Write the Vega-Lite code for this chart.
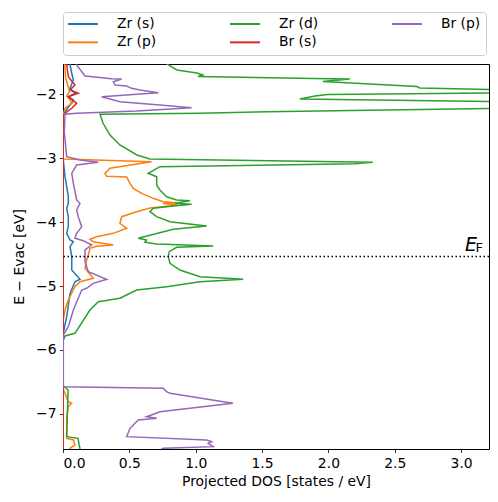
{
"$schema":"https://vega.github.io/schema/vega-lite/v6.json",
"width":426,"height":385,
"autosize":"none",
"padding":{"left":63,"top":64,"right":9,"bottom":53},
"config":{
 "font":"DejaVu Sans",
 "view":{"stroke":"black","strokeWidth":1},
 "axis":{"grid":false,"domainColor":"black","domainWidth":1,"tickColor":"black","tickSize":3.5,"tickWidth":0.8,"labelFontSize":13.9,"labelColor":"black","titleFontSize":13.9,"titleColor":"black","titleFontWeight":"normal","labelPadding":3.5,"zindex":1}
},
"datasets":{
"pdos":[
{"orbital":"Zr (s)","energy":-1.45,"dos":0.05},{"orbital":"Zr (s)","energy":-1.547,"dos":0.053},{"orbital":"Zr (s)","energy":-1.677,"dos":0.066},{"orbital":"Zr (s)","energy":-1.781,"dos":0.078},{"orbital":"Zr (s)","energy":-1.911,"dos":0.053},{"orbital":"Zr (s)","energy":-1.989,"dos":0.09},{"orbital":"Zr (s)","energy":-2.042,"dos":0.04},{"orbital":"Zr (s)","energy":-2.094,"dos":0.078},{"orbital":"Zr (s)","energy":-2.172,"dos":0.053},{"orbital":"Zr (s)","energy":-2.276,"dos":0.015},{"orbital":"Zr (s)","energy":-2.328,"dos":0.002},{"orbital":"Zr (s)","energy":-3.031,"dos":0.002},{"orbital":"Zr (s)","energy":-3.292,"dos":0.015},{"orbital":"Zr (s)","energy":-3.604,"dos":0.04},{"orbital":"Zr (s)","energy":-3.708,"dos":0.04},{"orbital":"Zr (s)","energy":-3.786,"dos":0.028},{"orbital":"Zr (s)","energy":-3.917,"dos":0.04},{"orbital":"Zr (s)","energy":-4.073,"dos":0.04},{"orbital":"Zr (s)","energy":-4.177,"dos":0.028},{"orbital":"Zr (s)","energy":-4.281,"dos":0.053},{"orbital":"Zr (s)","energy":-4.307,"dos":0.078},{"orbital":"Zr (s)","energy":-4.385,"dos":0.053},{"orbital":"Zr (s)","energy":-4.542,"dos":0.066},{"orbital":"Zr (s)","energy":-4.75,"dos":0.066},{"orbital":"Zr (s)","energy":-4.895,"dos":0.128},{"orbital":"Zr (s)","energy":-4.933,"dos":0.09},{"orbital":"Zr (s)","energy":-5.115,"dos":0.053},{"orbital":"Zr (s)","energy":-5.479,"dos":0.028},{"orbital":"Zr (s)","energy":-5.734,"dos":0.002},{"orbital":"Zr (s)","energy":-7.6,"dos":0.002},

{"orbital":"Zr (p)","energy":-1.45,"dos":0.01},{"orbital":"Zr (p)","energy":-1.75,"dos":0.02},{"orbital":"Zr (p)","energy":-1.96,"dos":0.05},{"orbital":"Zr (p)","energy":-2.03,"dos":0.028},{"orbital":"Zr (p)","energy":-2.14,"dos":0.07},{"orbital":"Zr (p)","energy":-2.22,"dos":0.015},{"orbital":"Zr (p)","energy":-2.317,"dos":0.002},{"orbital":"Zr (p)","energy":-3.016,"dos":0.002},{"orbital":"Zr (p)","energy":-3.058,"dos":0.668},{"orbital":"Zr (p)","energy":-3.161,"dos":0.354},{"orbital":"Zr (p)","energy":-3.239,"dos":0.316},{"orbital":"Zr (p)","energy":-3.285,"dos":0.329},{"orbital":"Zr (p)","energy":-3.298,"dos":0.48},{"orbital":"Zr (p)","energy":-3.396,"dos":0.505},{"orbital":"Zr (p)","energy":-3.474,"dos":0.529},{"orbital":"Zr (p)","energy":-3.552,"dos":0.593},{"orbital":"Zr (p)","energy":-3.63,"dos":0.68},{"orbital":"Zr (p)","energy":-3.683,"dos":0.755},{"orbital":"Zr (p)","energy":-3.698,"dos":0.858},{"orbital":"Zr (p)","energy":-3.71,"dos":0.753},{"orbital":"Zr (p)","energy":-3.734,"dos":0.866},{"orbital":"Zr (p)","energy":-3.781,"dos":0.655},{"orbital":"Zr (p)","energy":-3.839,"dos":0.555},{"orbital":"Zr (p)","energy":-3.917,"dos":0.442},{"orbital":"Zr (p)","energy":-4.02,"dos":0.429},{"orbital":"Zr (p)","energy":-4.098,"dos":0.48},{"orbital":"Zr (p)","energy":-4.177,"dos":0.379},{"orbital":"Zr (p)","energy":-4.23,"dos":0.254},{"orbital":"Zr (p)","energy":-4.27,"dos":0.203},{"orbital":"Zr (p)","energy":-4.308,"dos":0.228},{"orbital":"Zr (p)","energy":-4.359,"dos":0.379},{"orbital":"Zr (p)","energy":-4.378,"dos":0.254},{"orbital":"Zr (p)","energy":-4.411,"dos":0.203},{"orbital":"Zr (p)","energy":-4.516,"dos":0.191},{"orbital":"Zr (p)","energy":-4.594,"dos":0.178},{"orbital":"Zr (p)","energy":-4.723,"dos":0.166},{"orbital":"Zr (p)","energy":-4.88,"dos":0.228},{"orbital":"Zr (p)","energy":-4.933,"dos":0.128},{"orbital":"Zr (p)","energy":-5.011,"dos":0.09},{"orbital":"Zr (p)","energy":-5.219,"dos":0.04},{"orbital":"Zr (p)","energy":-5.375,"dos":0.015},{"orbital":"Zr (p)","energy":-5.531,"dos":0.002},{"orbital":"Zr (p)","energy":-6.6,"dos":0.002},{"orbital":"Zr (p)","energy":-6.625,"dos":0.005},{"orbital":"Zr (p)","energy":-6.808,"dos":0.04},{"orbital":"Zr (p)","energy":-6.833,"dos":0.065},{"orbital":"Zr (p)","energy":-6.885,"dos":0.04},{"orbital":"Zr (p)","energy":-7.067,"dos":0.028},{"orbital":"Zr (p)","energy":-7.38,"dos":0.028},{"orbital":"Zr (p)","energy":-7.406,"dos":0.078},{"orbital":"Zr (p)","energy":-7.484,"dos":0.09},{"orbital":"Zr (p)","energy":-7.536,"dos":0.053},{"orbital":"Zr (p)","energy":-7.6,"dos":0.05},

{"orbital":"Zr (d)","energy":-1.4,"dos":0.7},{"orbital":"Zr (d)","energy":-1.531,"dos":0.783},{"orbital":"Zr (d)","energy":-1.625,"dos":0.858},{"orbital":"Zr (d)","energy":-1.672,"dos":1.009},{"orbital":"Zr (d)","energy":-1.703,"dos":1.054},{"orbital":"Zr (d)","energy":-1.727,"dos":1.017},{"orbital":"Zr (d)","energy":-1.758,"dos":1.883},{"orbital":"Zr (d)","energy":-1.766,"dos":2.161},{"orbital":"Zr (d)","energy":-1.805,"dos":1.958},{"orbital":"Zr (d)","energy":-1.883,"dos":2.666},{"orbital":"Zr (d)","energy":-1.906,"dos":2.688},{"orbital":"Zr (d)","energy":-1.945,"dos":3.6},{"orbital":"Zr (d)","energy":-1.975,"dos":3.6},{"orbital":"Zr (d)","energy":-2.008,"dos":1.995},{"orbital":"Zr (d)","energy":-2.031,"dos":1.898},{"orbital":"Zr (d)","energy":-2.078,"dos":1.785},{"orbital":"Zr (d)","energy":-2.13,"dos":3.6},{"orbital":"Zr (d)","energy":-2.215,"dos":3.6},{"orbital":"Zr (d)","energy":-2.277,"dos":1.536},{"orbital":"Zr (d)","energy":-2.302,"dos":1.032},{"orbital":"Zr (d)","energy":-2.317,"dos":0.279},{"orbital":"Zr (d)","energy":-2.453,"dos":0.301},{"orbital":"Zr (d)","energy":-2.641,"dos":0.354},{"orbital":"Zr (d)","energy":-2.797,"dos":0.429},{"orbital":"Zr (d)","energy":-2.953,"dos":0.557},{"orbital":"Zr (d)","energy":-3.016,"dos":0.655},{"orbital":"Zr (d)","energy":-3.067,"dos":2.334},{"orbital":"Zr (d)","energy":-3.09,"dos":2.2},{"orbital":"Zr (d)","energy":-3.136,"dos":0.73},{"orbital":"Zr (d)","energy":-3.239,"dos":0.642},{"orbital":"Zr (d)","energy":-3.292,"dos":0.706},{"orbital":"Zr (d)","energy":-3.422,"dos":0.706},{"orbital":"Zr (d)","energy":-3.5,"dos":0.73},{"orbital":"Zr (d)","energy":-3.605,"dos":0.781},{"orbital":"Zr (d)","energy":-3.656,"dos":0.856},{"orbital":"Zr (d)","energy":-3.667,"dos":0.956},{"orbital":"Zr (d)","energy":-3.708,"dos":0.843},{"orbital":"Zr (d)","energy":-3.723,"dos":0.969},{"orbital":"Zr (d)","energy":-3.75,"dos":0.831},{"orbital":"Zr (d)","energy":-3.786,"dos":0.68},{"orbital":"Zr (d)","energy":-3.839,"dos":0.655},{"orbital":"Zr (d)","energy":-3.917,"dos":0.706},{"orbital":"Zr (d)","energy":-3.995,"dos":0.806},{"orbital":"Zr (d)","energy":-4.063,"dos":1.082},{"orbital":"Zr (d)","energy":-4.114,"dos":0.831},{"orbital":"Zr (d)","energy":-4.255,"dos":0.567},{"orbital":"Zr (d)","energy":-4.281,"dos":0.63},{"orbital":"Zr (d)","energy":-4.317,"dos":0.617},{"orbital":"Zr (d)","energy":-4.344,"dos":0.706},{"orbital":"Zr (d)","energy":-4.375,"dos":1.132},{"orbital":"Zr (d)","energy":-4.395,"dos":0.856},{"orbital":"Zr (d)","energy":-4.464,"dos":0.801},{"orbital":"Zr (d)","energy":-4.542,"dos":0.793},{"orbital":"Zr (d)","energy":-4.645,"dos":0.806},{"orbital":"Zr (d)","energy":-4.75,"dos":0.881},{"orbital":"Zr (d)","energy":-4.855,"dos":1.032},{"orbital":"Zr (d)","energy":-4.895,"dos":1.358},{"orbital":"Zr (d)","energy":-4.933,"dos":1.032},{"orbital":"Zr (d)","energy":-5.011,"dos":0.781},{"orbital":"Zr (d)","energy":-5.063,"dos":0.555},{"orbital":"Zr (d)","energy":-5.192,"dos":0.429},{"orbital":"Zr (d)","energy":-5.245,"dos":0.266},{"orbital":"Zr (d)","energy":-5.375,"dos":0.203},{"orbital":"Zr (d)","energy":-5.739,"dos":0.09},{"orbital":"Zr (d)","energy":-5.781,"dos":0.015},{"orbital":"Zr (d)","energy":-5.85,"dos":0.002},{"orbital":"Zr (d)","energy":-6.56,"dos":0.002},{"orbital":"Zr (d)","energy":-6.625,"dos":0.038},{"orbital":"Zr (d)","energy":-7.355,"dos":0.028},{"orbital":"Zr (d)","energy":-7.38,"dos":0.113},{"orbital":"Zr (d)","energy":-7.547,"dos":0.128},{"orbital":"Zr (d)","energy":-7.6,"dos":0.128},

{"orbital":"Br (s)","energy":-1.45,"dos":0.028},{"orbital":"Br (s)","energy":-1.547,"dos":0.028},{"orbital":"Br (s)","energy":-1.729,"dos":0.04},{"orbital":"Br (s)","energy":-1.859,"dos":0.09},{"orbital":"Br (s)","energy":-1.938,"dos":0.053},{"orbital":"Br (s)","energy":-1.989,"dos":0.115},{"orbital":"Br (s)","energy":-2.042,"dos":0.04},{"orbital":"Br (s)","energy":-2.145,"dos":0.103},{"orbital":"Br (s)","energy":-2.223,"dos":0.066},{"orbital":"Br (s)","energy":-2.302,"dos":0.015},{"orbital":"Br (s)","energy":-2.328,"dos":0.002},{"orbital":"Br (s)","energy":-7.6,"dos":0.002},

{"orbital":"Br (p)","energy":-1.4,"dos":0.09},{"orbital":"Br (p)","energy":-1.547,"dos":0.103},{"orbital":"Br (p)","energy":-1.719,"dos":0.166},{"orbital":"Br (p)","energy":-1.76,"dos":0.367},{"orbital":"Br (p)","energy":-1.767,"dos":0.442},{"orbital":"Br (p)","energy":-1.808,"dos":0.379},{"orbital":"Br (p)","energy":-1.859,"dos":0.392},{"orbital":"Br (p)","energy":-1.875,"dos":0.48},{"orbital":"Br (p)","energy":-1.911,"dos":0.517},{"orbital":"Br (p)","energy":-1.938,"dos":0.58},{"orbital":"Br (p)","energy":-1.98,"dos":0.718},{"orbital":"Br (p)","energy":-2.042,"dos":0.291},{"orbital":"Br (p)","energy":-2.12,"dos":0.429},{"orbital":"Br (p)","energy":-2.172,"dos":0.73},{"orbital":"Br (p)","energy":-2.214,"dos":0.969},{"orbital":"Br (p)","energy":-2.266,"dos":0.555},{"orbital":"Br (p)","energy":-2.302,"dos":0.103},{"orbital":"Br (p)","energy":-2.317,"dos":0.015},{"orbital":"Br (p)","energy":-2.6,"dos":0.01},{"orbital":"Br (p)","energy":-2.98,"dos":0.028},{"orbital":"Br (p)","energy":-3.031,"dos":0.128},{"orbital":"Br (p)","energy":-3.067,"dos":0.266},{"orbital":"Br (p)","energy":-3.109,"dos":0.103},{"orbital":"Br (p)","energy":-3.239,"dos":0.066},{"orbital":"Br (p)","energy":-3.396,"dos":0.078},{"orbital":"Br (p)","energy":-3.656,"dos":0.103},{"orbital":"Br (p)","energy":-3.708,"dos":0.128},{"orbital":"Br (p)","energy":-3.812,"dos":0.103},{"orbital":"Br (p)","energy":-3.917,"dos":0.115},{"orbital":"Br (p)","energy":-4.073,"dos":0.141},{"orbital":"Br (p)","energy":-4.177,"dos":0.103},{"orbital":"Br (p)","energy":-4.255,"dos":0.09},{"orbital":"Br (p)","energy":-4.292,"dos":0.153},{"orbital":"Br (p)","energy":-4.359,"dos":0.216},{"orbital":"Br (p)","energy":-4.437,"dos":0.166},{"orbital":"Br (p)","energy":-4.62,"dos":0.166},{"orbital":"Br (p)","energy":-4.777,"dos":0.191},{"orbital":"Br (p)","energy":-4.895,"dos":0.329},{"orbital":"Br (p)","energy":-4.958,"dos":0.228},{"orbital":"Br (p)","energy":-5.036,"dos":0.178},{"orbital":"Br (p)","energy":-5.063,"dos":0.141},{"orbital":"Br (p)","energy":-5.192,"dos":0.115},{"orbital":"Br (p)","energy":-5.375,"dos":0.078},{"orbital":"Br (p)","energy":-5.636,"dos":0.04},{"orbital":"Br (p)","energy":-5.766,"dos":0.002},{"orbital":"Br (p)","energy":-6.573,"dos":0.002},{"orbital":"Br (p)","energy":-6.599,"dos":0.755},{"orbital":"Br (p)","energy":-6.651,"dos":0.781},{"orbital":"Br (p)","energy":-6.677,"dos":0.806},{"orbital":"Br (p)","energy":-6.833,"dos":1.28},{"orbital":"Br (p)","energy":-6.964,"dos":0.73},{"orbital":"Br (p)","energy":-7.042,"dos":0.63},{"orbital":"Br (p)","energy":-7.067,"dos":0.706},{"orbital":"Br (p)","energy":-7.094,"dos":0.567},{"orbital":"Br (p)","energy":-7.224,"dos":0.505},{"orbital":"Br (p)","energy":-7.354,"dos":0.48},{"orbital":"Br (p)","energy":-7.406,"dos":1.082},{"orbital":"Br (p)","energy":-7.433,"dos":1.12},{"orbital":"Br (p)","energy":-7.458,"dos":1.094},{"orbital":"Br (p)","energy":-7.51,"dos":1.132},{"orbital":"Br (p)","energy":-7.536,"dos":0.755},{"orbital":"Br (p)","energy":-7.6,"dos":0.7}
],
"fermi":[{"ef":-4.54}]
},
"layer":[
{"data":{"name":"pdos"},
 "mark":{"type":"line","strokeWidth":1.5,"clip":true},
 "encoding":{
  "x":{"field":"dos","type":"quantitative","scale":{"domain":[0,3.21],"nice":false,"zero":false},
       "axis":{"title":"Projected DOS [states / eV]","values":[0,0.5,1,1.5,2,2.5,3],"format":".1f","titlePadding":5}},
  "y":{"field":"energy","type":"quantitative","scale":{"domain":[-7.547,-1.531],"nice":false,"zero":false},
       "axis":{"title":"E − Evac [eV]","values":[-7,-6,-5,-4,-3,-2],"format":"d","titlePadding":9}},
  "color":{"field":"orbital","type":"nominal",
   "scale":{"domain":["Zr (s)","Zr (d)","Br (p)","Zr (p)","Br (s)"],"range":["#1f77b4","#2ca02c","#9467bd","#ff7f0e","#d62728"]},
   "legend":{"title":null,"orient":"none","legendX":0,"legendY":-52,"direction":"horizontal","columns":3,
     "symbolType":"M-3,0H3","symbolSize":100,"symbolStrokeWidth":2,"symbolOffset":8,"labelFontSize":13.9,"labelColor":"black","labelOffset":27,
     "columnPadding":68,"rowPadding":3.4,"padding":5,"strokeColor":"#cccccc","fillColor":"white","cornerRadius":3}},
  "order":{"field":"energy","type":"quantitative"}
 }},
{"data":{"name":"fermi"},
 "mark":{"type":"rule","color":"black","strokeWidth":1.5,"strokeDash":[1.5,2.5]},
 "encoding":{"y":{"field":"ef","type":"quantitative"}}},
{"data":{"name":"fermi"},
 "mark":{"type":"text","text":"E","align":"right","baseline":"alphabetic","dx":-12,"dy":-5.7,"fontSize":19,"fontStyle":"italic","color":"black"},
 "encoding":{"y":{"field":"ef","type":"quantitative"},"x":{"datum":3.21}}},
{"data":{"name":"fermi"},
 "mark":{"type":"text","text":"F","align":"right","baseline":"alphabetic","dx":-6,"dy":-4.7,"fontSize":13,"color":"black"},
 "encoding":{"y":{"field":"ef","type":"quantitative"},"x":{"datum":3.21}}}
]
}
